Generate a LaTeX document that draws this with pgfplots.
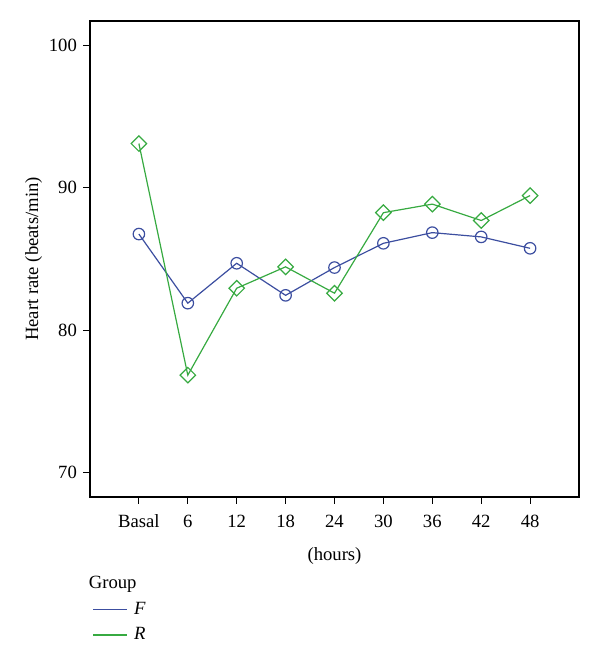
\documentclass[border=0pt]{standalone}
\usepackage{pgfplots}
\pgfplotsset{compat=1.18}
\usepackage{fontspec}
\setmainfont{Liberation Serif}
\definecolor{cF}{RGB}{60,78,160}
\definecolor{cR}{RGB}{55,170,65}
\begin{document}
\fontsize{14}{16}\selectfont
\begin{tikzpicture}
\path[use as bounding box] (-67.5pt,-127.5pt) rectangle (382.5pt,372.75pt);
\begin{axis}[
  at={(0,0)}, anchor=south west,
  scale only axis,
  width=366.75pt, height=357pt,
  xmin=-1, xmax=9, ymin=68.3, ymax=101.7,
  xtick={0,1,2,3,4,5,6,7,8},
  xticklabels={Basal,6,12,18,24,30,36,42,48},
  ytick={70,80,90,100},
  tick align=outside,
  xtick pos=bottom, ytick pos=left,
  major tick length=5pt,
  tick style={black, line width=0.8pt},
  axis line style={line width=0.9pt},
  /pgf/number format/assume math mode=true,
  ticklabel style={font=\fontsize{14}{16}\selectfont},
  xticklabel style={yshift=-3pt, text height=1.6ex, text depth=0.3ex},
  label style={font=\fontsize{14}{16}\selectfont},
  xlabel={(hours)},
  ylabel={Heart rate (beats/min)},
  xlabel style={yshift=-3pt},
  ylabel style={yshift=-4.5pt},
  legend style={at={(0.005,-0.16)}, anchor=north west, draw=none, fill=none,
    font=\fontsize{14}{16}\selectfont, row sep=4pt, inner sep=0pt,
    cells={anchor=west}},
  legend cell align=left,
  legend image code/.code={\draw[#1, line width=1.1pt] (0pt,0pt) -- (25pt,0pt);},
]
\addlegendimage{empty legend}
\addlegendentry{\hspace{-31pt}Group}
\addplot[cF, line width=0.9pt, mark=o, mark size=4.3pt, mark options={solid, line width=0.9pt}]
coordinates {(0,86.75) (1,81.9) (2,84.7) (3,82.45) (4,84.4) (5,86.1) (6,86.85) (7,86.55) (8,85.75)};
\addlegendentry{\hspace{3pt}\textit{F}}
\addplot[cR, line width=0.9pt, mark=square, mark size=4.1pt, mark options={solid, rotate=45, line width=0.9pt}]
coordinates {(0,93.1) (1,76.85) (2,82.95) (3,84.45) (4,82.6) (5,88.25) (6,88.85) (7,87.7) (8,89.45)};
\addlegendentry{\hspace{3pt}\textit{R}}
\end{axis}
\end{tikzpicture}
\end{document}
